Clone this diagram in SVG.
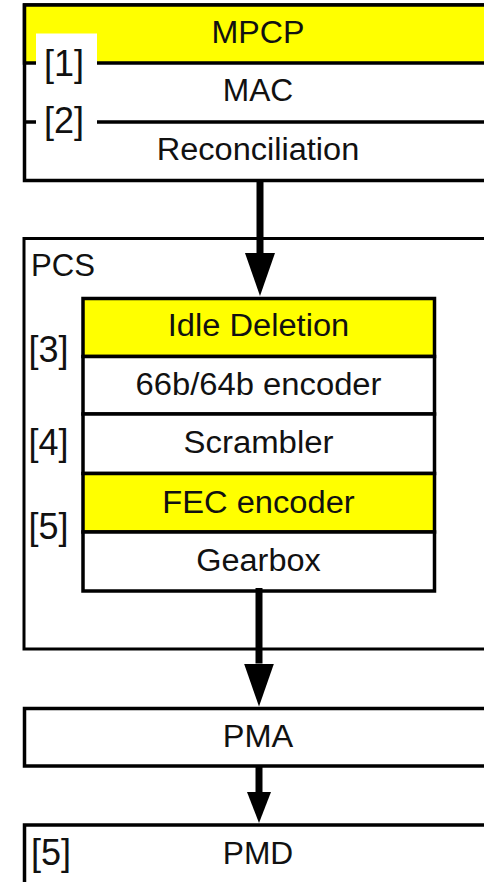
<svg xmlns="http://www.w3.org/2000/svg" width="484" height="882" viewBox="0 0 484 882">
<style>
.box{fill:#fff;stroke:#000;stroke-width:3.5}
.yel{fill:#ffff00;stroke:#000;stroke-width:3.5}
.outer{fill:#fff;stroke:#000;stroke-width:3}
.sep{stroke:#000;stroke-width:3.5;fill:none}
.t{font-family:"Liberation Sans",Arial,sans-serif;font-size:31px;fill:#111;text-anchor:middle}
.tl{font-family:"Liberation Sans",Arial,sans-serif;font-size:31px;fill:#111}
.lab{font-family:"Liberation Sans",Arial,sans-serif;font-size:36px;fill:#111}
.conn{stroke:#000;stroke-width:7;fill:none}
</style>
<defs>
<marker id="ahL" markerUnits="userSpaceOnUse" markerWidth="43" markerHeight="30" viewBox="0 0 43 30" refX="0" refY="15" orient="auto">
<path d="M0,0 L43,15 L0,30 Z" fill="#000"/>
</marker>
<marker id="ahS" markerUnits="userSpaceOnUse" markerWidth="31" markerHeight="24" viewBox="0 0 31 24" refX="0" refY="12" orient="auto">
<path d="M0,0 L31,12 L0,24 Z" fill="#000"/>
</marker>
</defs>

<g id="top-stack">
<rect class="box" x="24.5" y="5" width="480" height="175.5"/>
<rect class="yel" x="24.5" y="5" width="480" height="58"/>
<line class="sep" x1="24.5" y1="122" x2="504.5" y2="122"/>
<text class="t" x="258" y="43" textLength="93" lengthAdjust="spacingAndGlyphs">MPCP</text>
<text class="t" x="258" y="101" textLength="70.5" lengthAdjust="spacingAndGlyphs">MAC</text>
<text class="t" x="258" y="159.5" textLength="202.5" lengthAdjust="spacingAndGlyphs">Reconciliation</text>
</g>
<g id="label-1">
<rect x="36" y="33.5" width="61" height="48" fill="#fff"/>
<text class="lab" x="44" y="75.5">[1]</text>
</g>
<g id="label-2">
<rect x="36" y="102" width="61" height="38" fill="#fff"/>
<text class="lab" x="44" y="132.5">[2]</text>
</g>

<g id="pcs">
<rect class="outer" x="24" y="238.5" width="480" height="410.5"/>
<text class="tl" x="31" y="276" textLength="64" lengthAdjust="spacingAndGlyphs">PCS</text>
</g>
<g id="idle-deletion">
<rect class="yel" x="83" y="298.5" width="351.5" height="58"/>
<text class="t" x="258.5" y="336" textLength="181.5" lengthAdjust="spacingAndGlyphs">Idle Deletion</text>
</g>
<g id="encoder-66b64b">
<rect class="box" x="83" y="356.5" width="351.5" height="57.5"/>
<text class="t" x="258.5" y="395" textLength="246" lengthAdjust="spacingAndGlyphs">66b/64b encoder</text>
</g>
<g id="scrambler">
<rect class="box" x="83" y="414" width="351.5" height="59.5"/>
<text class="t" x="258.5" y="453" textLength="150" lengthAdjust="spacingAndGlyphs">Scrambler</text>
</g>
<g id="fec-encoder">
<rect class="yel" x="83" y="473.5" width="351.5" height="58.5"/>
<text class="t" x="258.5" y="512.5" textLength="192.5" lengthAdjust="spacingAndGlyphs">FEC encoder</text>
</g>
<g id="gearbox">
<rect class="box" x="83" y="532" width="351.5" height="59"/>
<text class="t" x="258.5" y="570.5" textLength="124.5" lengthAdjust="spacingAndGlyphs">Gearbox</text>
</g>
<g id="label-3"><text class="lab" x="28.5" y="362">[3]</text></g>
<g id="label-4"><text class="lab" x="28.5" y="454.5">[4]</text></g>
<g id="label-5"><text class="lab" x="28.5" y="539">[5]</text></g>

<g id="pma">
<rect class="box" x="24.5" y="708.5" width="480" height="57.5"/>
<text class="t" x="258" y="747" textLength="70.5" lengthAdjust="spacingAndGlyphs">PMA</text>
</g>
<g id="pmd">
<rect class="box" x="24.5" y="825" width="480" height="80"/>
<text class="t" x="258" y="864" textLength="70.5" lengthAdjust="spacingAndGlyphs">PMD</text>
<text class="lab" x="31" y="864.5">[5]</text>
</g>

<g id="connectors">
<line class="conn" x1="260" y1="182" x2="260" y2="253" marker-end="url(#ahL)"/>
<line class="conn" x1="259" y1="588" x2="259" y2="663.5" marker-end="url(#ahL)"/>
<line class="conn" x1="259" y1="767" x2="259" y2="792" marker-end="url(#ahS)"/>
</g>
</svg>
